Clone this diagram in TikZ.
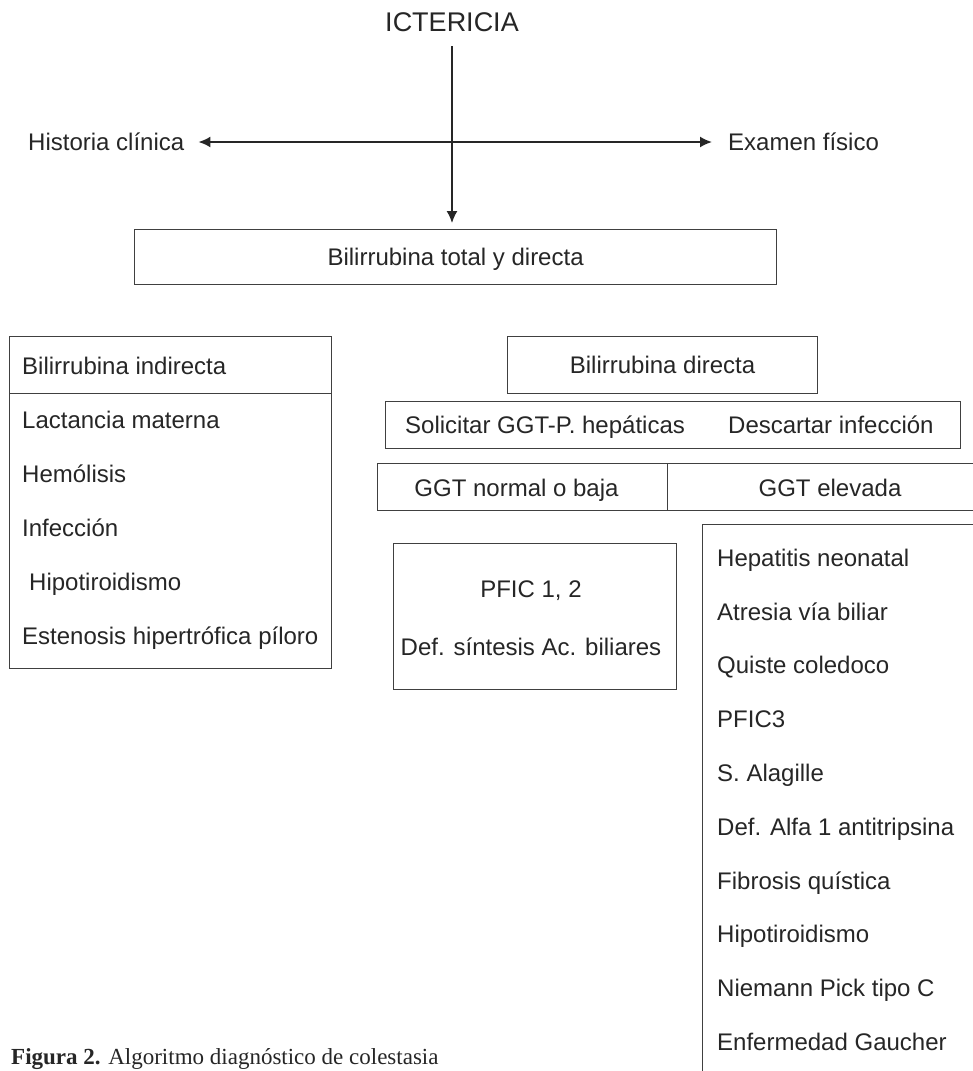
\documentclass[tikz,border=0pt]{standalone}
\usepackage{fontspec}
\setmainfont{Liberation Sans}
\newfontfamily\serifcap{Liberation Serif}
\usetikzlibrary{arrows.meta}
\begin{document}
\begin{tikzpicture}[x=1pt,y=-1pt,
  txt/.style={inner sep=0pt, text height=17.2pt, text depth=0pt, font=\fontsize{24}{28}\selectfont, text=black!85},
  bigtxt/.style={inner sep=0pt, text height=19.3pt, text depth=0pt, font=\fontsize{27}{32}\selectfont, text=black!85},
  box/.style={draw=black!75, line width=1.2pt, inner sep=0pt, anchor=north west},
  arrow one/.style={draw=black!85, line width=1.5pt, -{Latex[length=12pt,width=11pt]}},
  arrow both/.style={draw=black!85, line width=1.8pt, {Latex[length=12pt,width=11pt]}-{Latex[length=12pt,width=11pt]}}]
\useasboundingbox (0,0) rectangle (973,1071);
\fill[white] (0,0) rectangle (973,1071);
\clip (0,0) rectangle (973,1071);

% top
\node[bigtxt] (ict) at (452,21.5) {ICTERICIA};
\node[txt, anchor=west] (hc) at (28,142) {Historia clínica};
\node[txt, anchor=west] (ef) at (728,142) {Examen físico};
\node[box, txt, anchor=north west, minimum width=642, minimum height=55] (btd) at (134,229) {Bilirrubina total y directa};
\draw[arrow both, shorten <=14pt, shorten >=16pt] (hc.east) -- (ef.west);
\draw[arrow one, shorten <=15pt, shorten >=6pt] (ict.south) -- (ict.south |- btd.north);

% left column
\node[box, minimum width=322, minimum height=57] (bib) at (9,336) {};
\node[txt, anchor=west] (bit) at (22,365.5) {Bilirrubina indirecta};
\node[box, minimum width=322, minimum height=275] (bil) at (9,393) {};
\node[txt, anchor=west] (l1) at (22,419.5) {Lactancia materna};
\node[txt, anchor=west] (l2) at (22,474) {Hemólisis};
\node[txt, anchor=west] (l3) at (22,527.5) {Infección};
\node[txt, anchor=west] (l4) at (29,582) {Hipotiroidismo};
\node[txt, anchor=west] (l5) at (22,635.5) {Estenosis hipertrófica píloro};

% right column
\node[box, txt, minimum width=310, minimum height=57] (bd) at (507,336) {Bilirrubina directa};
\node[box, minimum width=575, minimum height=47] (sol) at (385,401) {};
\node[txt, anchor=west] (s1) at (405,425) {Solicitar GGT-P. hepáticas};
\node[txt, anchor=west] (s2) at (728,425) {Descartar infección};
\node[box, minimum width=290, minimum height=47] (gn) at (377,463) {};
\node[txt] (gnt) at (516.5,487.5) {GGT normal o baja};
\node[box, minimum width=340, minimum height=47] (ge) at (667,463) {};
\node[txt] (get) at (830,487.5) {GGT elevada};

\node[box, minimum width=283, minimum height=146] (pf) at (393,543) {};
\node[txt] (p1) at (531,589.3) {PFIC 1, 2};
\node[txt] (p2) at (531,647) {Def. síntesis Ac. biliares};

\node[box, minimum width=320, minimum height=600] (rb) at (702,524) {};
\node[txt, anchor=west] (r1) at (717,557.5) {Hepatitis neonatal};
\node[txt, anchor=west] (r2) at (717,611.5) {Atresia vía biliar};
\node[txt, anchor=west] (r3) at (717,665) {Quiste coledoco};
\node[txt, anchor=west] (r4) at (717,719) {PFIC3};
\node[txt, anchor=west] (r5) at (717,773) {S. Alagille};
\node[txt, anchor=west] (r6) at (717,826.7) {Def. Alfa 1 antitripsina};
\node[txt, anchor=west] (r7) at (717,880.5) {Fibrosis quística};
\node[txt, anchor=west] (r8) at (717,934.3) {Hipotiroidismo};
\node[txt, anchor=west] (r9) at (717,988) {Niemann Pick tipo C};
\node[txt, anchor=west] (r10) at (717,1041.5) {Enfermedad Gaucher};

% caption
\node[inner sep=0pt, anchor=base west, font=\serifcap\fontsize{23}{27}\selectfont, text=black!85] (cap) at (11,1064) {\textbf{Figura 2.} Algoritmo diagnóstico de colestasia};
\end{tikzpicture}
\end{document}
